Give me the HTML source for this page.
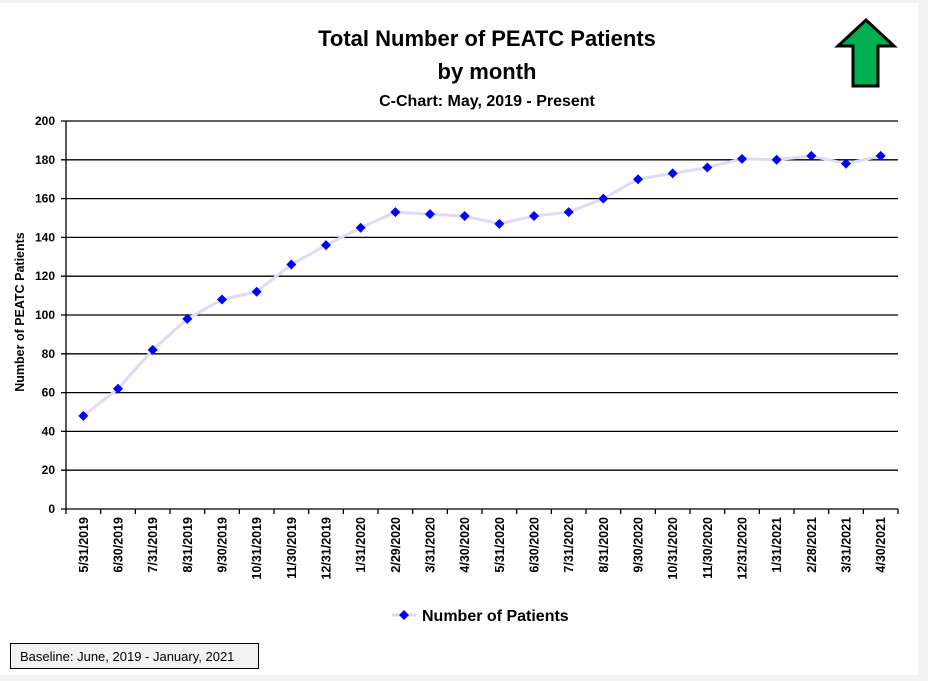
<!DOCTYPE html>
<html><head><style>
body{margin:0;background:#f3f3f3;}
svg{display:block;font-family:"Liberation Sans",Calibri,sans-serif;}
</style></head><body>
<svg width="928" height="681" viewBox="0 0 928 681" xmlns="http://www.w3.org/2000/svg">
<rect x="0" y="3" width="918" height="672" fill="#fff"/>
<text x="487" y="46" text-anchor="middle" font-size="22" font-weight="bold">Total Number of PEATC Patients</text>
<text x="487" y="79" text-anchor="middle" font-size="22" font-weight="bold">by month</text>
<text x="487" y="106" text-anchor="middle" font-size="16" font-weight="bold">C-Chart: May, 2019 - Present</text>
<polygon points="866,20 894,46 878,46 878,86 853,86 853,46 838,46" fill="#00b050" stroke="#000" stroke-width="3" stroke-linejoin="miter"/>
<g id="grid" stroke="#000" stroke-width="1.3"></g>
<g id="ylab" font-size="12" font-weight="bold" text-anchor="end"></g>
<g id="xlab" font-size="12.5" font-weight="bold"></g>
<text transform="translate(24,312) rotate(-90)" text-anchor="middle" font-size="12.5" font-weight="bold">Number of PEATC Patients</text>
<polyline id="line" fill="none" stroke="#dcdcfa" stroke-width="3" stroke-linejoin="round"/>
<g id="pts" fill="#0000ff"></g>
<line x1="392" y1="615" x2="416" y2="615" stroke="#dcdcfa" stroke-width="3"/>
<polygon points="404,610 409,615 404,620 399,615" fill="#0000ff"/>
<text x="422" y="621" font-size="16" font-weight="bold">Number of Patients</text>
<rect x="10.5" y="643.5" width="248" height="25" fill="#f2f2f2" stroke="#000"/>
<text x="20" y="661" font-size="13">Baseline: June, 2019 - January, 2021</text>
</svg>
<script>
var ns="http://www.w3.org/2000/svg";
function el(t,a,p,txt){var e=document.createElementNS(ns,t);for(var k in a)e.setAttribute(k,a[k]);if(txt!==undefined)e.textContent=String(txt);document.getElementById(p).appendChild(e);}
var x0=66,x1=898,y0=509,y1=121;
for(var v=0;v<=200;v+=20){var y=y0-(y0-y1)*v/200;el('line',{x1:x0-5,x2:x1,y1:y,y2:y},'grid');el('text',{x:55,y:y+4},'ylab',v);}
el('line',{x1:x0,x2:x0,y1:y1,y2:y0},'grid');
var labs=["5/31/2019","6/30/2019","7/31/2019","8/31/2019","9/30/2019","10/31/2019","11/30/2019","12/31/2019","1/31/2020","2/29/2020","3/31/2020","4/30/2020","5/31/2020","6/30/2020","7/31/2020","8/31/2020","9/30/2020","10/31/2020","11/30/2020","12/31/2020","1/31/2021","2/28/2021","3/31/2021","4/30/2021"];
var d=[48,62,82,98,108,112,126,136,145,153,152,151,147,151,153,160,170,173,176,180.5,180,182,178,182];
var w=(x1-x0)/24,pts=[];
for(var i=0;i<=24;i++){var x=x0+w*i;el('line',{x1:x,x2:x,y1:y0,y2:y0+5},'grid');}
for(var i=0;i<24;i++){var x=x0+w*(i+.5),y=y0-(y0-y1)*d[i]/200;pts.push(x+','+y);
el('polygon',{points:(x)+','+(y-5)+' '+(x+5)+','+y+' '+x+','+(y+5)+' '+(x-5)+','+y},'pts');
el('text',{transform:'translate('+(x+4.5)+',517) rotate(-90)','text-anchor':'end'},'xlab',labs[i]);}
document.getElementById('line').setAttribute('points',pts.join(' '));
</script>
</body></html>
